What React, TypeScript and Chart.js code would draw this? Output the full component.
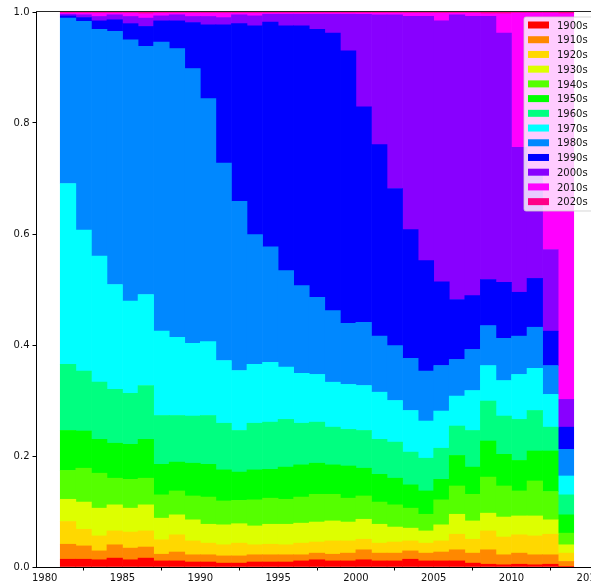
import React, { useEffect, useRef } from "react";
import { Chart, registerables } from "chart.js";

Chart.register(...registerables);

const years = [
  1981, 1982, 1983, 1984, 1985, 1986, 1987, 1988, 1989, 1990,
  1991, 1992, 1993, 1994, 1995, 1996, 1997, 1998, 1999, 2000,
  2001, 2002, 2003, 2004, 2005, 2006, 2007, 2008, 2009, 2010,
  2011, 2012, 2013,
];

const decadeLabels = ["1900s", "1910s", "1920s", "1930s", "1940s", "1950s", "1960s", "1970s", "1980s", "1990s", "2000s", "2010s", "2020s"];

const s1900s = [.014, .014, .013, .016, .013, .016, .011, .011, .009, .009, .007, .007, .009, .009, .009, .011, .013, .011, .011, .013, .011, .011, .014, .011, .011, .011, .007, .005, .004, .005, .004, .005, .001];
const s1910s = [.027, .024, .016, .024, .021, .020, .012, .016, .013, .013, .013, .013, .013, .013, .013, .011, .012, .012, .014, .018, .014, .014, .015, .014, .016, .020, .018, .026, .018, .020, .018, .017, .009];
const s1920s = [.041, .030, .027, .025, .029, .029, .026, .031, .025, .021, .020, .023, .018, .019, .018, .021, .020, .024, .022, .019, .018, .020, .018, .018, .020, .028, .025, .034, .032, .033, .034, .037, .015];
const s1930s = [.040, .049, .050, .047, .043, .047, .039, .036, .038, .034, .036, .035, .034, .036, .037, .036, .036, .036, .034, .036, .034, .027, .023, .022, .029, .036, .033, .032, .036, .034, .036, .026, .015];
const s1940s = [.052, .061, .063, .048, .052, .048, .042, .043, .043, .049, .043, .042, .047, .047, .045, .047, .050, .048, .043, .042, .040, .040, .036, .030, .045, .051, .048, .065, .056, .045, .063, .051, .021];
const s1950s = [.072, .067, .061, .063, .063, .070, .055, .052, .059, .059, .056, .051, .054, .052, .058, .058, .056, .053, .058, .050, .050, .048, .042, .042, .037, .055, .049, .065, .057, .055, .054, .073, .033];
const s1960s = [.119, .108, .103, .097, .092, .097, .088, .084, .085, .088, .084, .075, .084, .085, .086, .075, .074, .068, .066, .068, .063, .065, .059, .059, .056, .053, .066, .072, .069, .074, .073, .043, .036];
const s1970s = [.326, .254, .227, .189, .166, .164, .152, .141, .131, .133, .113, .108, .106, .108, .094, .090, .086, .081, .081, .081, .085, .075, .075, .067, .067, .054, .072, .064, .064, .081, .076, .059, .034];
const s1980s = [.298, .376, .409, .456, .471, .447, .521, .520, .495, .438, .356, .305, .234, .208, .174, .158, .139, .129, .110, .114, .101, .099, .094, .090, .082, .066, .074, .072, .076, .069, .074, .052, .048];
const s1990s = [.004, .007, .015, .021, .029, .036, .038, .050, .083, .133, .249, .320, .376, .405, .441, .468, .483, .500, .491, .388, .345, .283, .232, .199, .151, .108, .097, .083, .101, .079, .088, .062, .040];
const s2000s = [.003, .005, .008, .009, .013, .015, .009, .011, .011, .015, .013, .016, .018, .014, .021, .021, .027, .034, .066, .167, .234, .313, .384, .440, .470, .513, .503, .474, .449, .261, .187, .147, .050];
const s2010s = [.002, .003, .006, .003, .006, .008, .005, .003, .006, .006, .008, .003, .005, .002, .002, .002, .002, .002, .002, .002, .003, .003, .006, .006, .014, .003, .006, .005, .035, .242, .291, .426, .695];
const s2020s = [.002, .002, .002, .002, .002, .003, .002, .002, .002, .002, .002, .002, .002, .002, .002, .002, .002, .002, .002, .002, .002, .002, .002, .002, .002, .002, .002, .003, .003, .002, .002, .002, .003];

const seriesValues = [s1900s, s1910s, s1920s, s1930s, s1940s, s1950s, s1960s, s1970s, s1980s, s1990s, s2000s, s2010s, s2020s];

const xTicks = [1980, 1985, 1990, 1995, 2000, 2005, 2010, 2015];
const yTicks = [0, 0.2, 0.4, 0.6, 0.8, 1.0];

const colors = [
  "#ff0000", "#ff8800", "#ffd800", "#ddff00", "#55ff00", "#00ff00", "#00ff80",
  "#00ffff", "#0088ff", "#0000ff", "#8800ff", "#ff00ff", "#ff0088",
];

const FONT = '"DejaVu Sans", sans-serif';

const framePlugin = {
  id: "frameAndLegend",
  afterDraw(chart: any) {
    const ctx = chart.ctx;
    const a = chart.chartArea;
    ctx.save();
    // top spine
    ctx.strokeStyle = "rgba(0,0,0,0.85)";
    ctx.lineWidth = 1;
    ctx.beginPath();
    ctx.moveTo(a.left, Math.round(a.top) - 0.5);
    ctx.lineTo(a.right, Math.round(a.top) - 0.5);
    ctx.stroke();

    // legend box (upper right)
    const w = 69;
    const h = 194;
    const x = a.right - 5 - w;
    const y = a.top + 5;
    const r = 2;
    ctx.beginPath();
    ctx.moveTo(x + r, y);
    ctx.lineTo(x + w - r, y);
    ctx.quadraticCurveTo(x + w, y, x + w, y + r);
    ctx.lineTo(x + w, y + h - r);
    ctx.quadraticCurveTo(x + w, y + h, x + w - r, y + h);
    ctx.lineTo(x + r, y + h);
    ctx.quadraticCurveTo(x, y + h, x, y + h - r);
    ctx.lineTo(x, y + r);
    ctx.quadraticCurveTo(x, y, x + r, y);
    ctx.closePath();
    ctx.fillStyle = "rgba(255,255,255,0.8)";
    ctx.fill();
    ctx.strokeStyle = "rgba(204,204,204,0.8)";
    ctx.stroke();

    const rowH = 14.72;
    ctx.font = `10px ${FONT}`;
    ctx.textAlign = "left";
    ctx.textBaseline = "alphabetic";
    chart.data.datasets.forEach((d: any, i: number) => {
      const cy = y + 8 + i * rowH;
      ctx.fillStyle = d.backgroundColor;
      ctx.fillRect(x + 4, cy - 3.5, 21, 7);
      ctx.fillStyle = "#111";
      ctx.fillText(d.label, x + 33, cy + 3.7);
    });
    ctx.restore();
  },
};

export default function App() {
  const ref = useRef<HTMLCanvasElement | null>(null);

  useEffect(() => {
    if (!ref.current) return;
    const datasets = decadeLabels.map((label, k) => ({
      label,
      data: years.map((yr, i) => ({ x: yr + 0.5, y: seriesValues[k][i] })),
      backgroundColor: colors[k],
      borderWidth: 0,
      barPercentage: 1,
      categoryPercentage: 1,
    }));

    const chart = new Chart(ref.current, {
      type: "bar",
      data: { datasets },
      plugins: [framePlugin],
      options: {
        animation: false,
        responsive: false,
        devicePixelRatio: 1,
        maintainAspectRatio: false,
        layout: { padding: { top: 12, right: 22, left: 0, bottom: 0 } },
        plugins: { legend: { display: false }, tooltip: { enabled: false } },
        scales: {
          x: {
            type: "linear",
            stacked: true,
            min: 1979.44,
            max: 2015.56,
            offset: false,
            afterBuildTicks: (axis: any) => {
              axis.ticks = xTicks.map((v) => ({ value: v }));
            },
            afterFit: (axis: any) => {
              axis.height = 21;
            },
            ticks: {
              callback: (v: any) => String(v),
              font: { family: FONT, size: 10 },
              color: "#111",
              padding: 2,
              maxRotation: 0,
              autoSkip: false,
            },
            grid: { drawOnChartArea: false, drawTicks: true, tickLength: 3.5, color: "#000" },
            border: { display: true, color: "#000", width: 1 },
          },
          y: {
            stacked: true,
            min: 0,
            max: 1,
            afterBuildTicks: (axis: any) => {
              axis.ticks = yTicks.map((v) => ({ value: v }));
            },
            afterFit: (axis: any) => {
              axis.width = 36;
            },
            ticks: {
              callback: (v: any) => Number(v).toFixed(1),
              font: { family: FONT, size: 10 },
              color: "#111",
              padding: 3,
              autoSkip: false,
            },
            grid: { drawOnChartArea: false, drawTicks: true, tickLength: 3.5, color: "#000" },
            border: { display: true, color: "#000", width: 1 },
          },
        },
      },
    } as any);
    return () => chart.destroy();
  }, []);

  return (
    <div
      style={{
        position: "absolute",
        left: 0,
        top: 0,
        width: 591,
        height: 588,
        overflow: "hidden",
        background: "#fff",
      }}
    >
      <canvas ref={ref} width={620} height={588} style={{ display: "block" }} />
    </div>
  );
}
